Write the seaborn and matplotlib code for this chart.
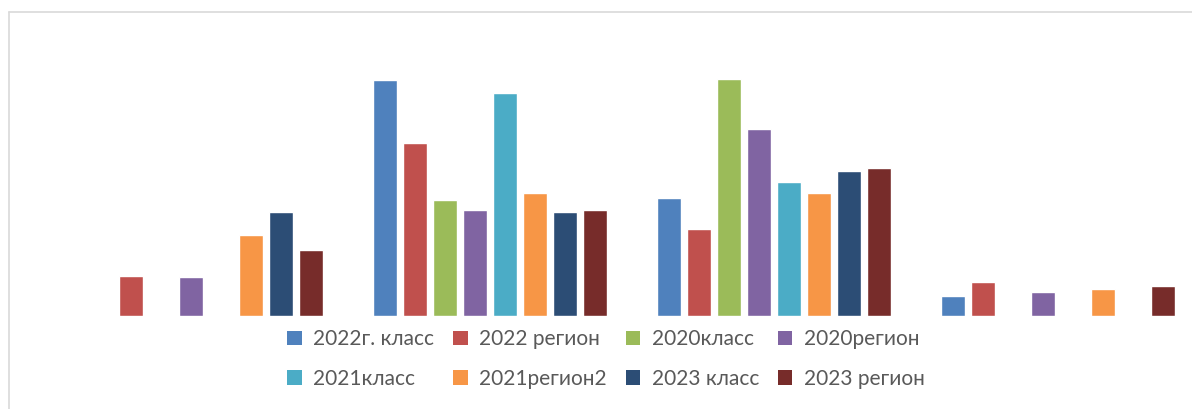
import pandas as pd
import matplotlib
matplotlib.use("Agg")
import matplotlib.pyplot as plt
from matplotlib.patches import Patch
from matplotlib.lines import Line2D
import seaborn as sns

# Категории (оценки) и ряды
categories = ["2", "3", "4", "5"]
series = [
    "2022г. класс",
    "2022 регион",
    "2020класс",
    "2020регион",
    "2021класс",
    "2021регион2",
    "2023 класс",
    "2023 регион",
]
colors = [
    "#4F81BD",
    "#C0504D",
    "#9BBB59",
    "#8064A2",
    "#4BACC6",
    "#F79646",
    "#2C4D75",
    "#772C2A",
]

# Значения по рядам (в порядке категорий)
v_2022_klass = [0.0, 23.6, 11.8, 2.0]
v_2022_region = [4.0, 17.3, 8.7, 3.4]
v_2020_klass = [0.0, 11.6, 23.7, 0.0]
v_2020_region = [3.9, 10.6, 18.7, 2.4]
v_2021_klass = [0.0, 22.3, 13.4, 0.0]
v_2021_region2 = [8.1, 12.3, 12.3, 2.7]
v_2023_klass = [10.4, 10.4, 14.5, 0.0]
v_2023_region = [6.6, 10.6, 14.8, 3.0]

values = [
    v_2022_klass,
    v_2022_region,
    v_2020_klass,
    v_2020_region,
    v_2021_klass,
    v_2021_region2,
    v_2023_klass,
    v_2023_region,
]

# Таблица в длинном формате для seaborn
rows = []
for name, vals in zip(series, values):
    for cat, v in zip(categories, vals):
        rows.append({"Категория": cat, "Ряд": name, "Значение": v})
df = pd.DataFrame(rows)

sns.set_theme(style="white")
plt.rcParams["font.family"] = ["Lato", "DejaVu Sans"]

fig = plt.figure(figsize=(11.92, 4.09), dpi=100)
ax = fig.add_axes([64 / 1192, 93 / 409, 1136 / 1192, 286 / 409])

sns.barplot(
    data=df,
    x="Категория",
    y="Значение",
    hue="Ряд",
    order=categories,
    hue_order=series,
    palette=colors,
    width=0.842,
    gap=0.2,
    saturation=1,
    legend=False,
    ax=ax,
)

ax.set_xlim(-0.5, 3.5)
ax.set_ylim(0, 28.6)
ax.set_xlabel("")
ax.set_ylabel("")
ax.set_xticks([])
ax.set_yticks([])
for s in ax.spines.values():
    s.set_visible(False)

# Рамка диаграммы (обрезана справа и снизу)
x0, y1 = 8.5 / 1192, 1 - 11.5 / 409
for xs, ys in [([x0, 1.0], [y1, y1]), ([x0, x0], [0.0, y1])]:
    fig.add_artist(
        Line2D(xs, ys, transform=fig.transFigure, color="#D9D9D9", linewidth=1.2)
    )

# Легенда внизу в две строки (заполнение по строкам)
order = [0, 4, 1, 5, 2, 6, 3, 7]
handles = [Patch(facecolor=colors[i], edgecolor="none") for i in order]
labels = [series[i] for i in order]
fig.legend(
    handles,
    labels,
    ncol=4,
    loc="center",
    bbox_to_anchor=(606 / 1192, 1 - 359 / 409),
    frameon=False,
    fontsize=15,
    labelcolor="#595959",
    handlelength=0.7,
    handleheight=0.7,
    handletextpad=0.55,
    columnspacing=0.9,
    labelspacing=0.95,
)

fig.savefig("out.png", dpi=100)
